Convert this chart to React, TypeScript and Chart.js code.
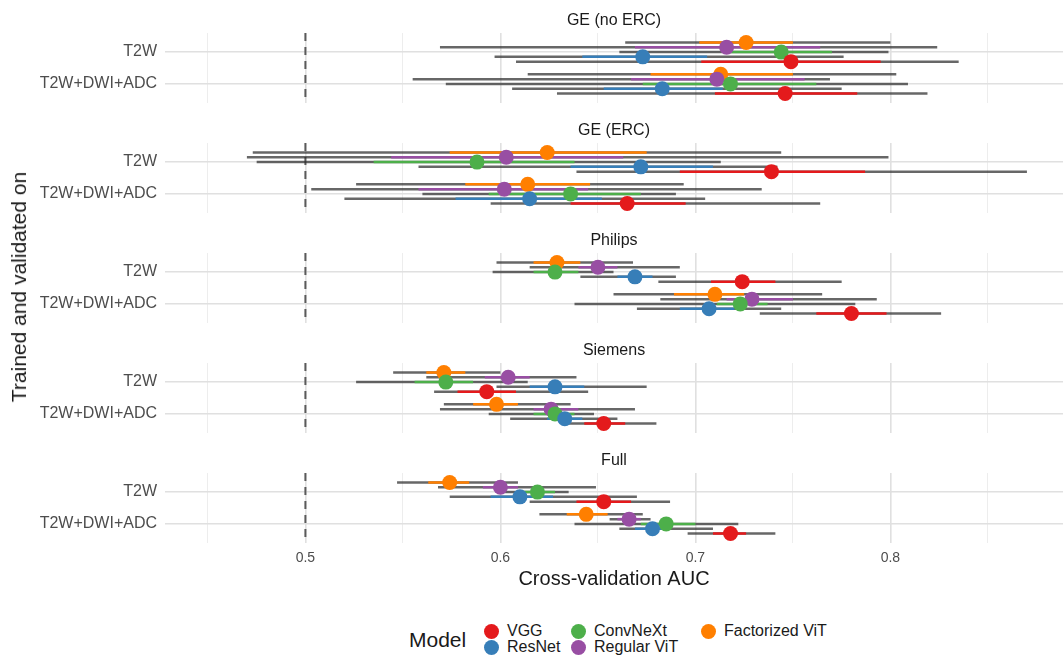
import React, { useEffect, useRef } from "react";
import { Chart, registerables } from "chart.js";

Chart.register(...registerables);

// ---------------- data ----------------
const facets = ["GE (no ERC)", "GE (ERC)", "Philips", "Siemens", "Full"];
const sequences = ["T2W", "T2W+DWI+ADC"];
const models = ["VGG", "ResNet", "ConvNeXt", "Regular ViT", "Factorized ViT"];
const modelColors = ["#E41A1C", "#377EB8", "#4DAF4A", "#984EA3", "#FF7F00"];

// order of values: [GE noERC T2W, GE noERC T2W+DWI+ADC, GE ERC T2W, GE ERC DWI, Philips T2W, Philips DWI, Siemens T2W, Siemens DWI, Full T2W, Full DWI]
const vggMean = [0.749, 0.746, 0.739, 0.665, 0.724, 0.780, 0.593, 0.653, 0.653, 0.718];
const vggInnerLo = [0.703, 0.710, 0.692, 0.636, 0.708, 0.762, 0.578, 0.643, 0.639, 0.709];
const vggInnerHi = [0.795, 0.783, 0.787, 0.695, 0.741, 0.798, 0.608, 0.664, 0.667, 0.726];
const vggOuterLo = [0.608, 0.629, 0.639, 0.595, 0.681, 0.733, 0.566, 0.634, 0.615, 0.696];
const vggOuterHi = [0.835, 0.819, 0.870, 0.764, 0.775, 0.826, 0.645, 0.680, 0.687, 0.741];

const resnetMean = [0.673, 0.683, 0.672, 0.615, 0.669, 0.707, 0.628, 0.633, 0.610, 0.678];
const resnetInnerLo = [0.642, 0.653, 0.636, 0.577, 0.660, 0.692, 0.615, 0.624, 0.595, 0.669];
const resnetInnerHi = [0.706, 0.714, 0.709, 0.652, 0.678, 0.720, 0.643, 0.642, 0.627, 0.687];
const resnetOuterLo = [0.597, 0.606, 0.558, 0.520, 0.641, 0.670, 0.598, 0.605, 0.574, 0.661];
const resnetOuterHi = [0.776, 0.775, 0.742, 0.705, 0.690, 0.744, 0.675, 0.660, 0.670, 0.709];

const convnextMean = [0.744, 0.718, 0.588, 0.636, 0.628, 0.723, 0.572, 0.628, 0.619, 0.685];
const convnextInnerLo = [0.717, 0.673, 0.535, 0.594, 0.617, 0.711, 0.556, 0.617, 0.611, 0.672];
const convnextInnerHi = [0.770, 0.762, 0.638, 0.672, 0.640, 0.737, 0.586, 0.638, 0.628, 0.700];
const convnextOuterLo = [0.661, 0.572, 0.475, 0.560, 0.596, 0.638, 0.526, 0.594, 0.600, 0.638];
const convnextOuterHi = [0.799, 0.809, 0.713, 0.690, 0.658, 0.782, 0.614, 0.648, 0.635, 0.722];

const vitMean = [0.716, 0.711, 0.603, 0.602, 0.650, 0.729, 0.604, 0.626, 0.600, 0.666];
const vitInnerLo = [0.669, 0.667, 0.544, 0.558, 0.640, 0.716, 0.592, 0.617, 0.591, 0.660];
const vitInnerHi = [0.764, 0.756, 0.663, 0.645, 0.660, 0.750, 0.615, 0.640, 0.609, 0.672];
const vitOuterLo = [0.569, 0.555, 0.470, 0.503, 0.615, 0.682, 0.562, 0.569, 0.568, 0.656];
const vitOuterHi = [0.824, 0.769, 0.799, 0.734, 0.692, 0.793, 0.639, 0.669, 0.649, 0.677];

const fvitMean = [0.726, 0.713, 0.624, 0.614, 0.629, 0.710, 0.571, 0.598, 0.574, 0.644];
const fvitInnerLo = [0.702, 0.677, 0.574, 0.582, 0.617, 0.689, 0.562, 0.586, 0.563, 0.634];
const fvitInnerHi = [0.750, 0.750, 0.675, 0.646, 0.641, 0.725, 0.582, 0.609, 0.584, 0.655];
const fvitOuterLo = [0.664, 0.614, 0.473, 0.526, 0.598, 0.658, 0.545, 0.571, 0.547, 0.620];
const fvitOuterHi = [0.800, 0.803, 0.744, 0.694, 0.668, 0.765, 0.600, 0.636, 0.609, 0.673];

const xTicks = [0.45, 0.5, 0.55, 0.6, 0.65, 0.7, 0.75, 0.8, 0.85];
const referenceAUC = 0.5;

const means = [vggMean, resnetMean, convnextMean, vitMean, fvitMean];
const innerLo = [vggInnerLo, resnetInnerLo, convnextInnerLo, vitInnerLo, fvitInnerLo];
const innerHi = [vggInnerHi, resnetInnerHi, convnextInnerHi, vitInnerHi, fvitInnerHi];
const outerLo = [vggOuterLo, resnetOuterLo, convnextOuterLo, vitOuterLo, fvitOuterLo];
const outerHi = [vggOuterHi, resnetOuterHi, convnextOuterHi, vitOuterHi, fvitOuterHi];

// dodge (VGG bottom ... Factorized ViT top)
const dodge = [0.3, 0.15, 0, -0.15, -0.3];

const FONT = "'Liberation Sans', Arial, Helvetica, sans-serif";
const PANEL_TOPS = [33, 143, 253, 363, 473];
const STRIP_H = 28;
const PANEL_H = 70;
const XAXIS_H = 48;

const isMajor = (v: number) => Math.abs(v * 10 - Math.round(v * 10)) < 1e-6;

const zeroPad = (s: any) => {
  s.paddingTop = 0;
  s.paddingBottom = 0;
  s.paddingLeft = 0;
  s.paddingRight = 0;
};

function Panel({ p }: { p: number }) {
  const ref = useRef<HTMLCanvasElement | null>(null);
  const isLast = p === facets.length - 1;
  const height = STRIP_H + PANEL_H + (isLast ? XAXIS_H : 0);

  useEffect(() => {
    if (!ref.current) return;
    const datasets: any[] = [];
    models.forEach((name, m) => {
      sequences.forEach((_s, r) => {
        const i = p * 2 + r;
        const y = r + 1 + dodge[m];
        datasets.push({
          type: "line",
          label: name + " range",
          data: [
            { x: outerLo[m][i], y },
            { x: outerHi[m][i], y },
          ],
          borderColor: "rgba(45,45,45,0.72)",
          borderWidth: 2.5,
          pointRadius: 0,
          order: 3,
        });
        datasets.push({
          type: "line",
          label: name + " sd",
          data: [
            { x: innerLo[m][i], y },
            { x: innerHi[m][i], y },
          ],
          borderColor: modelColors[m],
          borderWidth: 2.5,
          pointRadius: 0,
          order: 2,
        });
      });
      datasets.push({
        type: "scatter",
        label: name,
        data: sequences.map((_s, r) => ({ x: means[m][p * 2 + r], y: r + 1 + dodge[m] })),
        backgroundColor: modelColors[m],
        borderWidth: 0,
        pointRadius: 7.5,
        order: 1,
      });
    });
    datasets.push({
      type: "line",
      label: "chance",
      data: [
        { x: referenceAUC, y: 0.4 },
        { x: referenceAUC, y: 2.6 },
      ],
      borderColor: "#5a5a5a",
      borderWidth: 2,
      borderDash: [8, 6],
      pointRadius: 0,
      order: 4,
    });

    const chart = new Chart(ref.current, {
      type: "scatter",
      data: { datasets },
      options: {
        animation: false,
        responsive: false,
        maintainAspectRatio: false,
        devicePixelRatio: 1,
        layout: { padding: 0, autoPadding: false },
        plugins: {
          legend: { display: false },
          tooltip: { enabled: false },
          title: {
            display: true,
            text: facets[p],
            fullSize: false,
            color: "#1a1a1a",
            font: { size: 16, family: FONT, weight: "normal" },
            padding: { top: 6, bottom: 2.8 },
          },
        },
        scales: {
          x: {
            type: "linear",
            min: 0.428,
            max: 0.8885,
            afterBuildTicks: (s: any) => {
              s.ticks = xTicks.map((v) => ({ value: v }));
            },
            afterFit: (s: any) => {
              s.height = isLast ? XAXIS_H : 0;
              zeroPad(s);
            },
            ticks: {
              display: isLast,
              autoSkip: false,
              maxRotation: 0,
              padding: 7,
              color: "#4d4d4d",
              font: { size: 14, family: FONT },
              callback: (v: any) => (isMajor(Number(v)) ? Number(v).toFixed(1) : ""),
            },
            grid: {
              drawTicks: false,
              color: (ctx: any) => (ctx.tick && isMajor(ctx.tick.value) ? "#e0e0e0" : "#ededed"),
              lineWidth: (ctx: any) => (ctx.tick && isMajor(ctx.tick.value) ? 1.6 : 1),
            },
            border: { display: false },
            title: {
              display: isLast,
              text: "Cross-validation AUC",
              color: "#1a1a1a",
              font: { size: 20, family: FONT },
              padding: { top: 0, bottom: 0 },
            },
          },
          y: {
            type: "linear",
            reverse: true,
            min: 0.4,
            max: 2.6,
            afterBuildTicks: (s: any) => {
              s.ticks = sequences.map((_s, r) => ({ value: r + 1 }));
            },
            afterFit: (s: any) => {
              s.width = 165;
              zeroPad(s);
            },
            ticks: {
              autoSkip: false,
              padding: 8,
              color: "#4d4d4d",
              font: { size: 16, family: FONT },
              callback: (v: any) => sequences[Math.round(Number(v)) - 1] ?? "",
            },
            grid: { drawTicks: false, color: "#e0e0e0", lineWidth: 1.6 },
            border: { display: false },
          },
        },
      } as any,
    });
    return () => chart.destroy();
  }, [p]);

  return (
    <canvas
      ref={ref}
      width={1063}
      height={height}
      style={{ position: "absolute", left: 0, top: PANEL_TOPS[p] - STRIP_H, width: 1063, height }}
    />
  );
}

const legendCols = [
  { x: 491, items: [0, 1] },
  { x: 578, items: [2, 3] },
  { x: 708, items: [4] },
];
const legendRows = [631, 647];

export default function App() {
  return (
    <div
      style={{
        position: "fixed",
        left: 0,
        top: 0,
        width: 1063,
        height: 662,
        background: "#ffffff",
        fontFamily: FONT,
        overflow: "hidden",
      }}
    >
      {facets.map((_f, p) => (
        <Panel key={p} p={p} />
      ))}
      <div
        style={{
          position: "absolute",
          left: 19,
          top: 287,
          transform: "translate(-50%, -50%) rotate(-90deg)",
          whiteSpace: "nowrap",
          fontSize: 21,
          color: "#1a1a1a",
        }}
      >
        Trained and validated on
      </div>
      <div
        style={{
          position: "absolute",
          left: 409,
          top: 640,
          transform: "translateY(-50%)",
          fontSize: 21,
          color: "#1a1a1a",
          whiteSpace: "nowrap",
        }}
      >
        Model
      </div>
      {legendCols.map((col, ci) =>
        col.items.map((m, ri) => (
          <React.Fragment key={ci + "-" + ri}>
            <div
              style={{
                position: "absolute",
                left: col.x - 7.5,
                top: legendRows[ri] - 7.5,
                width: 15,
                height: 15,
                borderRadius: "50%",
                background: modelColors[m],
              }}
            />
            <div
              style={{
                position: "absolute",
                left: col.x + 16,
                top: legendRows[ri],
                transform: "translateY(-50%)",
                fontSize: 16,
                lineHeight: "16px",
                color: "#1a1a1a",
                whiteSpace: "nowrap",
              }}
            >
              {models[m]}
            </div>
          </React.Fragment>
        ))
      )}
    </div>
  );
}
